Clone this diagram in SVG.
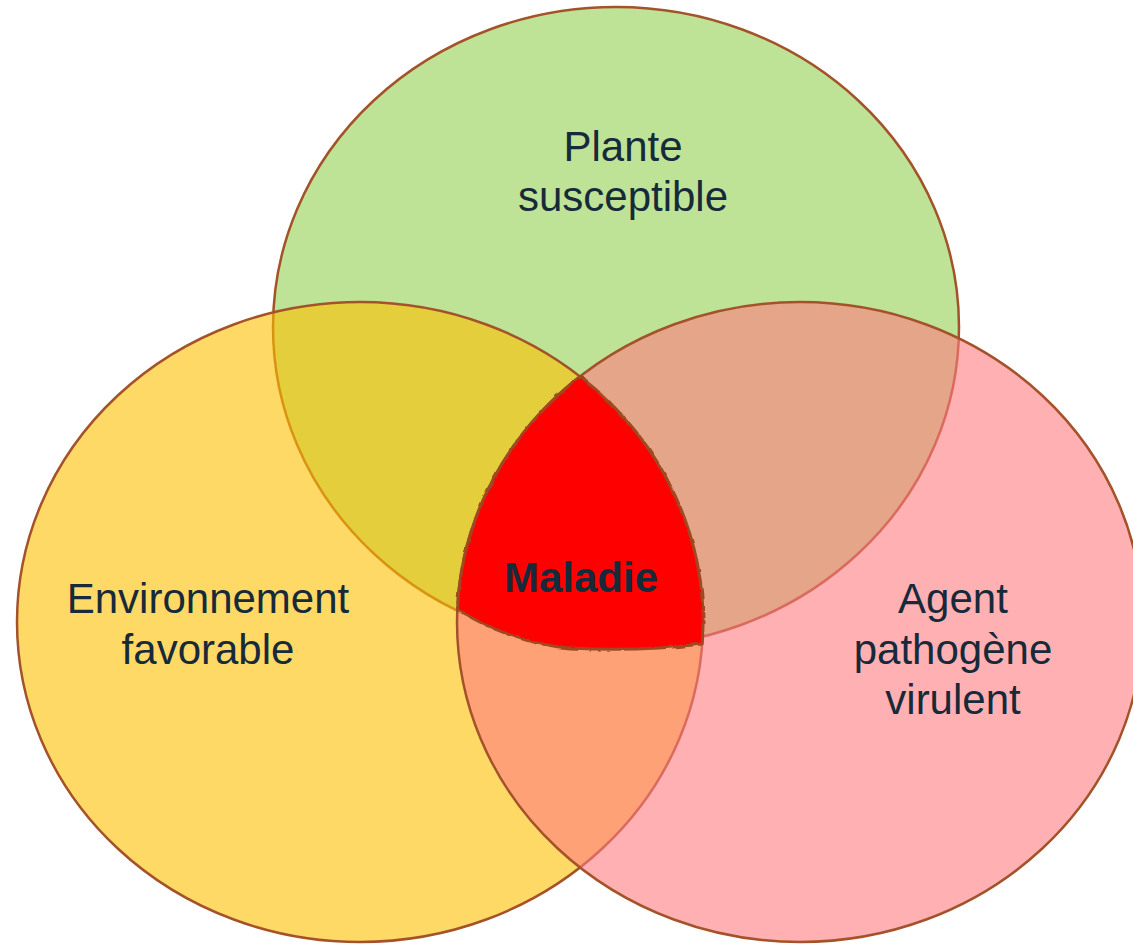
<svg xmlns="http://www.w3.org/2000/svg" width="1133" height="944" viewBox="0 0 1133 944">
  <style>
    .set { fill-opacity: 0.6; stroke: #A4522A; stroke-width: 2.5; }
    .lbl { font-family: "Liberation Sans", Arial, sans-serif; font-size: 42px; fill: #172A3A; text-anchor: middle; }
    .core { fill: #FF0000; stroke: #9E4A22; stroke-width: 3; stroke-linejoin: round; }
  </style>
  <defs>
    <filter id="rough" x="-5%" y="-5%" width="110%" height="110%">
      <feTurbulence type="fractalNoise" baseFrequency="0.09" numOctaves="2" seed="3" result="n"/>
      <feDisplacementMap in="SourceGraphic" in2="n" scale="3" xChannelSelector="R" yChannelSelector="G"/>
    </filter>
  </defs>
  <rect width="1133" height="944" fill="#FFFFFF"/>
  <g id="plante">
    <ellipse class="set" cx="616" cy="327" rx="343" ry="320" fill="#92D050"/>
  </g>
  <g id="environnement">
    <ellipse class="set" cx="360" cy="622" rx="343" ry="320" fill="#FFC000"/>
  </g>
  <g id="agent">
    <ellipse class="set" cx="800" cy="622" rx="343" ry="320" fill="#FF7C80"/>
  </g>
  <g id="maladie">
    <path class="core" filter="url(#rough)" d="M 580 376.5 A 343 320 0 0 0 457.5 609.5 C 490 630 530 645 570 648 C 620 651 670 648 702.2 644 A 343 320 0 0 0 580 376.5 Z"/>
  </g>
  <g id="labels">
    <text class="lbl" x="623" y="161">Plante</text>
    <text class="lbl" x="623" y="211">susceptible</text>
    <text class="lbl" x="208" y="613">Environnement</text>
    <text class="lbl" x="208" y="664">favorable</text>
    <text class="lbl" x="953" y="613">Agent</text>
    <text class="lbl" x="953" y="664">pathogène</text>
    <text class="lbl" x="953" y="714">virulent</text>
    <text class="lbl" x="581" y="592" font-weight="bold">Maladie</text>
  </g>
  <g id="connectors"></g>
</svg>
